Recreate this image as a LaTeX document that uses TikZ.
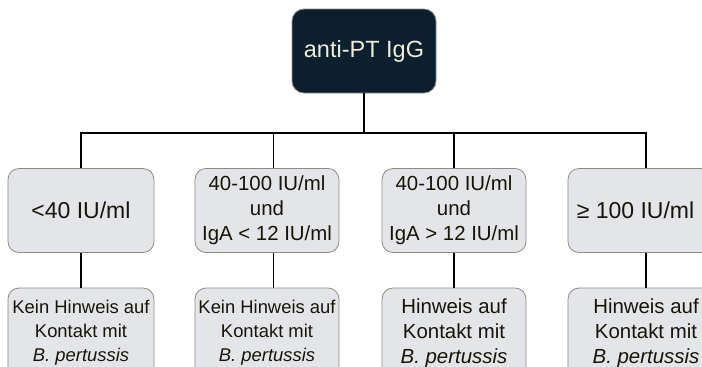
\documentclass[tikz,border=0pt]{standalone}
\usepackage{fontspec}
\setmainfont{Liberation Sans}
\definecolor{boxfill}{HTML}{E4E5E8}
\definecolor{boxline}{HTML}{8C8C84}
\definecolor{topfill}{HTML}{0B1F2E}
\definecolor{toptext}{HTML}{F0EDD6}
\definecolor{txt}{HTML}{151508}
\begin{document}
\begin{tikzpicture}[x=1pt,y=-1pt,
  gbox/.style={draw=boxline, line width=0.8pt, fill=boxfill, rounded corners=11pt,
    minimum width=146pt, minimum height=84pt, inner sep=0pt, align=center, text=txt},
  topbox/.style={draw=boxline, line width=0.8pt, fill=topfill, rounded corners=12pt,
    minimum width=144pt, minimum height=84pt, inner sep=0pt, align=center, text=toptext,
    font=\fontsize{23.5}{28}\selectfont},
  big/.style={font=\fontsize{23}{28}\selectfont},
  mid/.style={font=\fontsize{20.4}{25}\selectfont},
  small/.style={font=\fontsize{18.4}{24}\selectfont},
  conn/.style={line width=1.6pt, black}]
\path[use as bounding box] (0,0) rectangle (702,367);
\clip (0,0) rectangle (702,367);
\node[topbox] (top) at (364,51) {anti-PT IgG};
\node[gbox,big] (m1) at (81,210.5) {\raisebox{-3.5pt}{<40 IU/ml}};
\node[gbox,mid,minimum width=144pt] (m2) at (267,210.5) {40-100 IU/ml\\und\\IgA < 12 IU/ml};
\node[gbox,mid,minimum width=144pt] (m3) at (454,210.5) {40-100 IU/ml\\und\\IgA > 12 IU/ml};
\node[gbox,big,minimum width=156pt] (m4) at (646,210.5) {\raisebox{-3.5pt}{≥ 100 IU/ml}\hspace*{21pt}};
\node[gbox,small,minimum height=90pt] (b1) at (81,333) {Kein Hinweis auf\\Kontakt mit\\\textit{B. pertussis}};
\node[gbox,small,minimum width=144pt,minimum height=90pt] (b2) at (267,333) {Kein Hinweis auf\\Kontakt mit\\\textit{B. pertussis}};
\node[gbox,mid,minimum width=144pt,minimum height=90pt] (b3) at (454,333) {Hinweis auf\\Kontakt mit\\\textit{B. pertussis}};
\node[gbox,mid,minimum width=156pt,minimum height=90pt] (b4) at (646,333) {Hinweis auf\\Kontakt mit\\\textit{B. pertussis}};
\coordinate (bar) at (0,133);
\coordinate (m2top) at ([xshift=6.5pt]m2.north);
\coordinate (m2bot) at ([xshift=6.5pt]m2.south);
\draw[conn] (top.south) -- (top.south |- bar);
\draw[conn] (m1.north) -- (m1.north |- bar) -- (m4.north |- bar) -- (m4.north);
\draw[conn] (m2top) -- (m2top |- bar);
\draw[conn] (m3.north) -- (m3.north |- bar);
\draw[conn] (m1.south) -- (b1.north);
\draw[conn] (m2bot) -- (m2bot |- b2.north);
\draw[conn] (m3.south) -- (b3.north);
\draw[conn] (m4.south) -- (b4.north);
\end{tikzpicture}
\end{document}
